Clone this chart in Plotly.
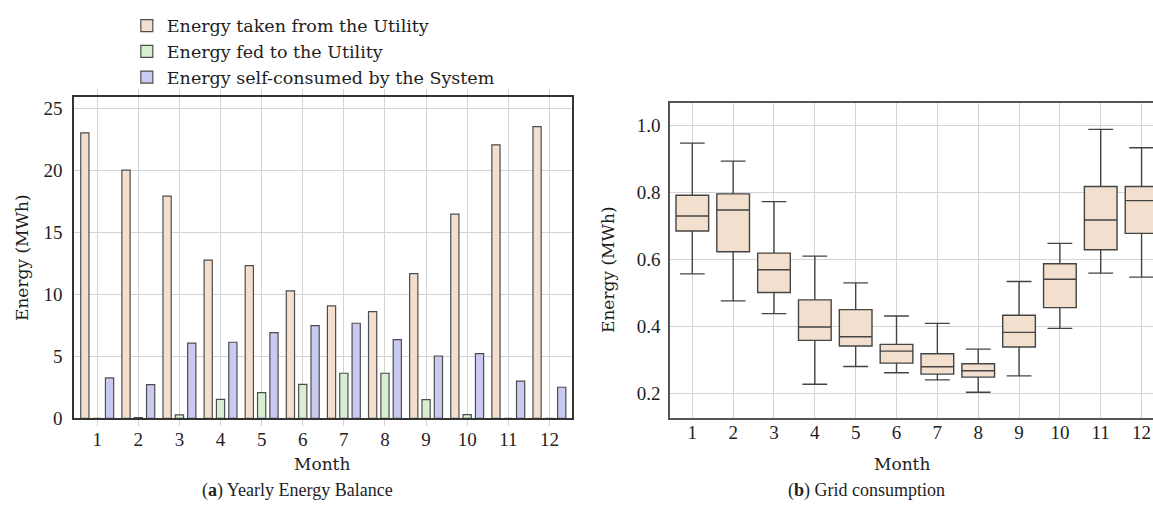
import plotly.graph_objects as go

# Monthly energy balance (MWh)
months = list(range(1, 13))
taken_from_utility = [23.0, 20.0, 17.9, 12.75, 12.3, 10.27, 9.06, 8.6, 11.66, 16.45, 22.04, 23.5]
fed_to_utility = [0.0, 0.05, 0.27, 1.53, 2.07, 2.74, 3.63, 3.63, 1.5, 0.29, 0.0, 0.0]
self_consumed = [3.25, 2.71, 6.05, 6.13, 6.9, 7.47, 7.66, 6.34, 5.02, 5.21, 3.0, 2.5]

# Grid consumption distribution per month (MWh)
lower_whisker = [0.557, 0.476, 0.438, 0.227, 0.280, 0.261, 0.240, 0.203, 0.252, 0.394, 0.559, 0.547]
q1 = [0.685, 0.623, 0.501, 0.358, 0.341, 0.290, 0.257, 0.248, 0.338, 0.456, 0.629, 0.678]
median = [0.730, 0.748, 0.569, 0.398, 0.369, 0.326, 0.279, 0.267, 0.382, 0.541, 0.718, 0.776]
q3 = [0.792, 0.796, 0.619, 0.479, 0.450, 0.346, 0.318, 0.288, 0.433, 0.587, 0.818, 0.818]
upper_whisker = [0.948, 0.894, 0.773, 0.610, 0.530, 0.431, 0.409, 0.332, 0.534, 0.648, 0.989, 0.934]

SERIF = "Liberation Serif"
WIDE_SERIF = "DejaVu Serif"
TEXT = "#1e1e1e"
EDGE = "#4d4d4d"
GRID = "#d4d4d4"

fig = go.Figure()

series = [
    ("Energy taken from the Utility", taken_from_utility, "#f4dfcf", -0.4),
    ("Energy fed to the Utility", fed_to_utility, "#d6efd0", -0.1),
    ("Energy self-consumed by the System", self_consumed, "#c9c9f1", 0.2),
]
for name, vals, color, off in series:
    fig.add_trace(go.Bar(
        x=months, y=vals, name=name, width=0.2, offset=off,
        marker=dict(color=color, line=dict(color=EDGE, width=1.2)),
        xaxis="x", yaxis="y",
    ))

fig.add_trace(go.Box(
    x=months, q1=q1, median=median, q3=q3,
    lowerfence=lower_whisker, upperfence=upper_whisker,
    width=0.8, whiskerwidth=0.76,
    fillcolor="#f2dfcd", line=dict(color="#444444", width=1.4),
    showlegend=False, xaxis="x2", yaxis="y2",
))

tick_font = dict(family=SERIF, size=19, color=TEXT)

fig.update_layout(
    width=1153, height=510,
    margin=dict(l=0, r=0, t=0, b=0),
    paper_bgcolor="white", plot_bgcolor="white",
    barmode="overlay",
    font=dict(family=SERIF, color=TEXT),
    legend=dict(
        x=0.110, y=0.985, xanchor="left", yanchor="top",
        font=dict(family=WIDE_SERIF, size=17.5, color=TEXT),
        bgcolor="rgba(0,0,0,0)", itemwidth=30, tracegroupgap=0,
    ),
    xaxis=dict(
        domain=[0.0642, 0.4961], range=[0.436, 12.55],
        tickvals=months, ticks="outside", ticklen=6, tickcolor=GRID,
        ticklabelstandoff=-3,
        showgrid=True, gridcolor=GRID, gridwidth=1,
        showline=True, linecolor="#333333", linewidth=1.5, mirror="allticks",
        tickfont=tick_font, zeroline=False, anchor="y", automargin=False,
    ),
    yaxis=dict(
        domain=[0.1798, 0.8098], range=[0, 25.89],
        tickvals=[0, 5, 10, 15, 20, 25], ticks="", ticklabelstandoff=6,
        showgrid=True, gridcolor=GRID, gridwidth=1,
        showline=True, linecolor="#333333", linewidth=1.5, mirror=True,
        tickfont=tick_font, zeroline=False, anchor="x", automargin=False,
    ),
    xaxis2=dict(
        domain=[0.5811, 1.0], range=[0.454, 12.28],
        tickvals=months, ticks="", ticklabelstandoff=-4,
        showgrid=True, gridcolor=GRID, gridwidth=1,
        showline=True, linecolor="#555555", linewidth=1.5, mirror=True,
        tickfont=tick_font, zeroline=False, anchor="y2", automargin=False,
    ),
    yaxis2=dict(
        domain=[0.1798, 0.7975], range=[0.125, 1.067],
        tickvals=[0.2, 0.4, 0.6, 0.8, 1.0], tickformat=".1f", ticks="",
        ticklabelstandoff=4,
        showgrid=True, gridcolor=GRID, gridwidth=1,
        showline=True, linecolor="#555555", linewidth=1.5, mirror=False,
        tickfont=tick_font, zeroline=False, anchor="x2", automargin=False,
    ),
)

label_font = dict(family=WIDE_SERIF, size=17, color=TEXT)
caption_font = dict(family=SERIF, size=18, color=TEXT)

annotations = [
    dict(text="Energy (MWh)", x=22 / 1153, y=1 - 258 / 510, textangle=-90, font=label_font),
    dict(text="Month", x=322 / 1153, y=1 - 464 / 510, font=label_font),
    dict(text="Energy (MWh)", x=608 / 1153, y=1 - 270 / 510, textangle=-90, font=label_font),
    dict(text="Month", x=902 / 1153, y=1 - 464 / 510, font=label_font),
    dict(text="(<b>a</b>) Yearly Energy Balance", x=297 / 1153, y=1 - 490 / 510, font=caption_font),
    dict(text="(<b>b</b>) Grid consumption", x=866 / 1153, y=1 - 490 / 510, font=caption_font),
]
for a in annotations:
    fig.add_annotation(xref="paper", yref="paper", showarrow=False,
                       xanchor="center", yanchor="middle", **a)

fig.write_html("out.html")
